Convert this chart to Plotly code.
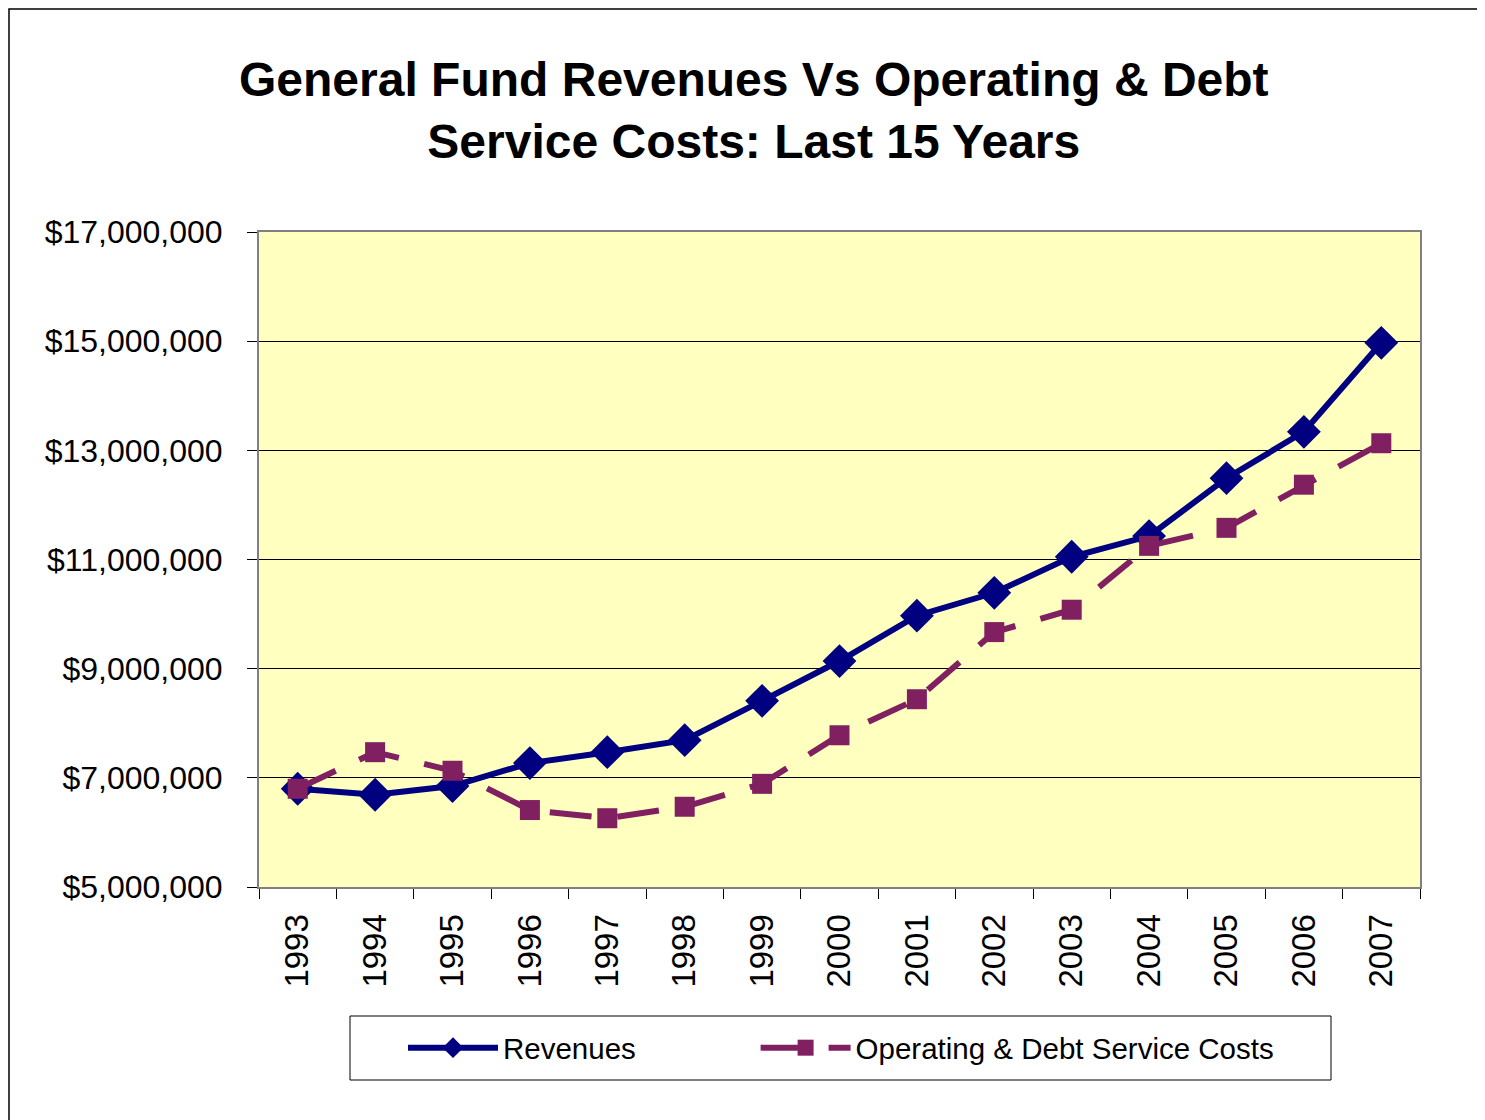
import plotly.graph_objects as go

years = ["1993", "1994", "1995", "1996", "1997", "1998", "1999", "2000",
         "2001", "2002", "2003", "2004", "2005", "2006", "2007"]
revenues = [6800000, 6690000, 6850000, 7270000, 7470000, 7690000, 8410000, 9140000,
            9970000, 10390000, 11050000, 11430000, 12490000, 13340000, 14970000]
costs = [6800000, 7470000, 7130000, 6410000, 6260000, 6470000, 6890000, 7780000,
         8440000, 9670000, 10080000, 11250000, 11580000, 12370000, 13130000]
ytick_vals = [5000000, 7000000, 9000000, 11000000, 13000000, 15000000, 17000000]
ytick_text = ["$5,000,000", "$7,000,000", "$9,000,000", "$11,000,000",
              "$13,000,000", "$15,000,000", "$17,000,000"]

OFF = 8  # page body margin
W, H = 1477, 1112
L, R, T, B = 251, 65, 224, 233
pw, ph = W - L - R, H - T - B
FONT = "Arial, Liberation Sans, sans-serif"

def px_x(p):
    return (p - OFF - L) / pw

def px_y(p):
    return (H - B + OFF - p) / ph

fig = go.Figure()
fig.add_trace(go.Scatter(
    x=years, y=revenues, name="Revenues" + "&nbsp;" * 14, mode="lines+markers",
    line=dict(color="#000080", width=6),
    marker=dict(symbol="diamond", size=26, color="#000080"),
))
fig.add_trace(go.Scatter(
    x=years, y=costs, name="Operating & Debt Service Costs", mode="lines+markers",
    line=dict(color="#802060", width=6, dash="42px,26px"),
    marker=dict(symbol="square", size=20, color="#802060"),
))

# outer chart frame
fig.add_shape(type="rect", xref="paper", yref="paper",
              x0=px_x(9), x1=px_x(1500), y0=px_y(1130), y1=px_y(9),
              line=dict(color="#000000", width=1.5), fillcolor="rgba(0,0,0,0)", layer="below")
# legend frame
fig.add_shape(type="rect", xref="paper", yref="paper",
              x0=px_x(350), x1=px_x(1331), y0=px_y(1080), y1=px_y(1016),
              line=dict(color="#000000", width=1), fillcolor="white", layer="below")

fig.add_annotation(
    text="<b>General Fund Revenues Vs Operating & Debt<br>Service Costs: Last 15 Years</b>",
    xref="paper", yref="paper", x=px_x(754), y=px_y(51),
    xanchor="center", yanchor="top", showarrow=False,
    font=dict(size=48, family=FONT, color="#000000"),
)

fig.update_layout(
    width=W, height=H,
    margin=dict(l=L, r=R, t=T, b=B),
    paper_bgcolor="white",
    plot_bgcolor="#FFFFC0",
    font=dict(family=FONT, color="#000000"),
    showlegend=True,
    legend=dict(
        orientation="h", x=px_x(841), xanchor="center", y=px_y(1048), yanchor="middle",
        borderwidth=0, bgcolor="rgba(0,0,0,0)",
        font=dict(size=29.5, family=FONT),
        itemwidth=90, tracegroupgap=0,
    ),
)
fig.update_xaxes(
    type="category", range=[-0.5, 14.5],
    tickson="boundaries", ticks="outside", ticklen=10, tickcolor="#000000",
    tickangle=-90, tickfont=dict(size=33), ticklabelstandoff=12,
    showline=True, linecolor="#808080", linewidth=2, mirror=True,
    showgrid=False, zeroline=False,
)
fig.update_yaxes(
    range=[5000000, 17000000], tickvals=ytick_vals, ticktext=ytick_text,
    ticks="outside", ticklen=10, tickcolor="#000000", tickfont=dict(size=32),
    ticklabelstandoff=18,
    showline=True, linecolor="#808080", linewidth=2, mirror=True,
    showgrid=True, gridcolor="#000000", gridwidth=1, zeroline=False,
)

fig.write_html("out.html")
